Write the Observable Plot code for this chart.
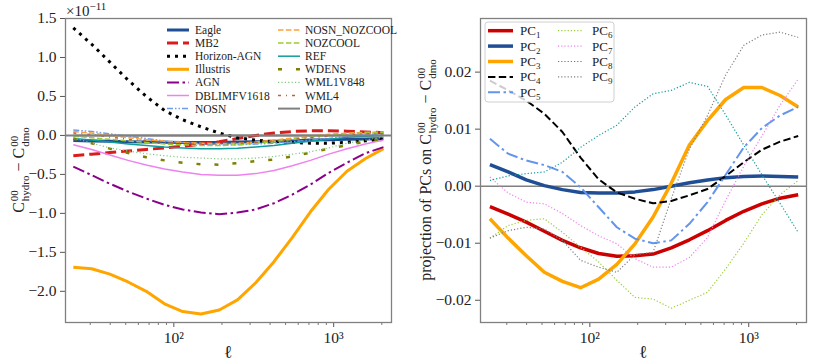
<!DOCTYPE html>
<html><head><meta charset="utf-8">
<script src="https://cdn.jsdelivr.net/npm/d3@7"></script>
<script src="https://cdn.jsdelivr.net/npm/@observablehq/plot@0.6"></script>
<style>
body{margin:0;background:#fff;font-family:'Liberation Serif','DejaVu Serif',serif;color:#222;}
#wrap{position:relative;width:814px;height:362px;overflow:hidden;background:#fff;}
#left,#right{position:absolute;top:0;}
#left{left:0;} #right{left:410px;}
#left svg text,#right svg text{font-family:'Liberation Serif','DejaVu Serif',serif;font-size:15.5px;}
.txt{position:absolute;white-space:nowrap;}
.ylab{position:absolute;white-space:nowrap;transform:translate(-50%,-50%) rotate(-90deg);font-size:16px;}
.st{display:inline-flex;flex-direction:column;vertical-align:middle;font-size:11px;line-height:11px;margin-left:1px;}
#ov{position:absolute;left:0;top:0;pointer-events:none;}
</style></head>
<body>
<div id="wrap">
  <div id="left"></div>
  <div id="right"></div>
  <div class="txt" style="left:66px;top:0px;font-size:15px;">×10<sup style="font-size:11px;">−11</sup></div>
  <div class="ylab" style="left:20px;top:170px;">C<span class="st"><span>00</span><span>hydro</span></span> − C<span class="st"><span>00</span><span>dmo</span></span></div>
  <div class="ylab" style="left:427px;top:170px;">projection of PCs on C<span class="st"><span>00</span><span>hydro</span></span> − C<span class="st"><span>00</span><span>dmo</span></span></div>
  <div class="txt" style="left:228px;top:352px;transform:translate(-50%,-50%);font-size:18px;">ℓ</div>
  <div class="txt" style="left:643px;top:352px;transform:translate(-50%,-50%);font-size:18px;">ℓ</div>
  <svg id="ov" width="814" height="362"></svg>
</div>
<script>
// multipole bins
const ells = [23.5, 30.6, 39.8, 51.7, 67.2, 87.4, 113.7, 147.9, 192.3, 250.1, 325.3, 423.1, 550.3, 715.7, 930.9, 1210.7, 1574.6, 2048];

// Left panel: C_hydro - C_dmo (units of 1e-11)
const eagle       = [-0.065, -0.07, -0.075, -0.08, -0.085, -0.088, -0.09, -0.09, -0.09, -0.085, -0.08, -0.075, -0.07, -0.06, -0.055, -0.05, -0.045, -0.04];
const mb2         = [-0.26, -0.24, -0.22, -0.20, -0.18, -0.16, -0.14, -0.11, -0.08, -0.04, 0.00, 0.03, 0.05, 0.06, 0.06, 0.055, 0.045, 0.035];
const horizonAGN  = [1.38, 1.17, 0.94, 0.71, 0.50, 0.32, 0.20, 0.11, 0.03, -0.03, -0.06, -0.08, -0.09, -0.10, -0.10, -0.09, -0.07, -0.05];
const illustris   = [-1.69, -1.71, -1.78, -1.88, -2.00, -2.16, -2.26, -2.29, -2.24, -2.11, -1.89, -1.62, -1.31, -0.98, -0.69, -0.46, -0.30, -0.17];
const agn         = [-0.40, -0.51, -0.62, -0.72, -0.81, -0.89, -0.95, -0.99, -1.01, -0.99, -0.95, -0.87, -0.76, -0.63, -0.48, -0.35, -0.23, -0.15];
const dblimfv1618 = [-0.12, -0.18, -0.25, -0.32, -0.38, -0.43, -0.47, -0.50, -0.51, -0.51, -0.49, -0.45, -0.39, -0.32, -0.24, -0.17, -0.11, -0.06];
const nosn        = [0.07, 0.05, 0.02, -0.01, -0.04, -0.07, -0.09, -0.11, -0.12, -0.12, -0.11, -0.10, -0.08, -0.06, -0.04, -0.01, 0.01, 0.02];
const nosnNozcool = [0.05, 0.03, 0.0, -0.03, -0.055, -0.075, -0.09, -0.10, -0.105, -0.10, -0.085, -0.06, -0.035, -0.01, 0.015, 0.03, 0.04, 0.045];
const nozcool     = [-0.01, -0.03, -0.05, -0.07, -0.09, -0.11, -0.12, -0.13, -0.13, -0.12, -0.10, -0.08, -0.05, -0.02, 0.0, 0.02, 0.03, 0.035];
const ref         = [-0.04, -0.06, -0.085, -0.11, -0.13, -0.15, -0.16, -0.17, -0.17, -0.165, -0.15, -0.13, -0.10, -0.075, -0.05, -0.025, -0.01, 0.0];
const wdens       = [-0.04, -0.10, -0.17, -0.225, -0.28, -0.32, -0.35, -0.37, -0.375, -0.355, -0.33, -0.31, -0.27, -0.22, -0.17, -0.125, -0.08, -0.04];
const wml1v848    = [-0.03, -0.10, -0.16, -0.20, -0.235, -0.26, -0.28, -0.29, -0.30, -0.30, -0.29, -0.27, -0.24, -0.21, -0.16, -0.10, -0.06, -0.02];
const wml4        = [0.03, 0.01, -0.02, -0.05, -0.07, -0.09, -0.10, -0.11, -0.11, -0.10, -0.09, -0.07, -0.05, -0.03, -0.01, 0.01, 0.02, 0.02];
const dmo         = [0, 0, 0, 0, 0, 0, 0, 0, 0, 0, 0, 0, 0, 0, 0, 0, 0, 0];

// Right panel: projections of PCs
const pc1 = [-0.0036, -0.0049, -0.0063, -0.0079, -0.0095, -0.0108, -0.0118, -0.0123, -0.0122, -0.0119, -0.0108, -0.0094, -0.0078, -0.0060, -0.0044, -0.0031, -0.0021, -0.0015];
const pc2 = [0.0038, 0.0025, 0.0011, 0.0001, -0.0006, -0.0011, -0.0012, -0.0012, -0.0010, -0.0006, 0.0000, 0.0006, 0.0011, 0.0015, 0.0017, 0.0018, 0.0017, 0.0016];
const pc3 = [-0.0057, -0.0091, -0.0122, -0.0151, -0.0167, -0.0178, -0.0163, -0.0137, -0.0101, -0.0054, 0.0005, 0.0072, 0.0115, 0.0152, 0.0173, 0.0173, 0.0159, 0.0139];
const pc4 = [0.0185, 0.0168, 0.0150, 0.0127, 0.0095, 0.0050, 0.0012, -0.0011, -0.0022, -0.0030, -0.0026, -0.0016, -0.0005, 0.0018, 0.0042, 0.0064, 0.0078, 0.0088];
const pc5 = [0.0083, 0.0057, 0.0045, 0.0037, 0.0025, -0.0002, -0.0037, -0.0072, -0.0092, -0.0100, -0.0095, -0.0066, -0.0028, 0.0020, 0.0068, 0.0102, 0.0124, 0.0139];
const pc6 = [-0.0091, -0.0069, -0.0060, -0.0057, -0.0081, -0.0107, -0.0133, -0.0165, -0.0195, -0.0198, -0.0214, -0.0200, -0.0186, -0.0145, -0.0100, -0.0050, -0.0015, 0.0010];
const pc7 = [0.0016, -0.0012, -0.0028, -0.0031, -0.0048, -0.0069, -0.0087, -0.0101, -0.0127, -0.0142, -0.0142, -0.0125, -0.0090, -0.0025, 0.0035, 0.0088, 0.0142, 0.0188];
const pc8 = [0.0010, 0.0018, 0.0022, 0.0025, 0.0042, 0.0068, 0.0089, 0.0107, 0.0139, 0.0162, 0.0168, 0.0182, 0.0175, 0.0125, 0.0072, 0.0020, -0.0030, -0.0081];
const pc9 = [-0.0091, -0.0078, -0.0072, -0.0075, -0.0095, -0.0130, -0.0142, -0.0151, -0.0120, -0.0116, -0.0022, 0.0065, 0.0124, 0.0195, 0.0247, 0.0265, 0.0270, 0.0261];

// ticks
const xMajor = [100, 1000];
const xMinor = [30, 40, 50, 60, 70, 80, 90, 200, 300, 400, 500, 600, 700, 800, 900, 2000];
const xMajorLabels = ["10²", "10³"];
const leftYTicks = [-2, -1.5, -1, -0.5, 0, 0.5, 1, 1.5];
const rightYTicks = [-0.02, -0.01, 0, 0.01, 0.02];

// styles
const leftSeries = [
  {name: "Eagle", values: eagle, color: "#1f4e94", w: 3, dash: null},
  {name: "MB2", values: mb2, color: "#d91c1c", w: 3, dash: "11,5"},
  {name: "Horizon-AGN", values: horizonAGN, color: "#000", w: 3, dash: "3,5"},
  {name: "Illustris", values: illustris, color: "#ffa500", w: 3, dash: null},
  {name: "AGN", values: agn, color: "#8b008b", w: 2, dash: "12,3.5,2.5,3.5"},
  {name: "DBLIMFV1618", values: dblimfv1618, color: "#ee82ee", w: 1.5, dash: null},
  {name: "NOSN", values: nosn, color: "#6f9be8", w: 1.5, dash: "6,2,1.5,2,1.5,2"},
  {name: "NOSN_NOZCOOL", values: nosnNozcool, color: "#ff9f3a", w: 1.5, dash: "5.5,2.4"},
  {name: "NOZCOOL", values: nozcool, color: "#9acd32", w: 1.5, dash: "5.5,2.4"},
  {name: "REF", values: ref, color: "#119c9c", w: 1.5, dash: null},
  {name: "WDENS", values: wdens, color: "#808000", w: 2.5, dash: "4,14"},
  {name: "WML1V848", values: wml1v848, color: "#80c880", w: 1.2, dash: "1.2,2.2"},
  {name: "WML4", values: wml4, color: "#c0603a", w: 1.5, dash: "3,5,1,5"},
  {name: "DMO", values: dmo, color: "#808080", w: 2, dash: null}
];
const rightSeries = [
  {name: "1", values: pc1, color: "#cc0000", w: 3.5, dash: null},
  {name: "2", values: pc2, color: "#1f4e94", w: 3.5, dash: null},
  {name: "3", values: pc3, color: "#ffa500", w: 3.5, dash: null},
  {name: "4", values: pc4, color: "#000", w: 2, dash: "7.4,3.4"},
  {name: "5", values: pc5, color: "#6495ed", w: 2, dash: "12,3.5,2.5,3.5"},
  {name: "6", values: pc6, color: "#9acd32", w: 1.2, dash: "1.2,2"},
  {name: "7", values: pc7, color: "#ee82ee", w: 1.2, dash: "1.2,2"},
  {name: "8", values: pc8, color: "#119c9c", w: 1.2, dash: "1.2,2"},
  {name: "9", values: pc9, color: "#808080", w: 1.2, dash: "1.2,2"}
];

const toRows = arr => ells.map((l, i) => ({ell: l, v: arr[i]}));
const lineMarks = list => list.map(s => Plot.line(toRows(s.values), {
  x: "ell", y: "v", stroke: s.color, strokeWidth: s.w,
  strokeDasharray: s.dash || undefined, strokeLinejoin: "round", strokeLinecap: "butt"
}));
const fmtMinus = (d, n) => (d < 0 ? "−" : "") + Math.abs(d).toFixed(n);
const font = "'Liberation Serif','DejaVu Serif',serif";
const svgStyle = "font-family:'Liberation Serif','DejaVu Serif',serif;font-size:15.5px;background:white;color:#222;";

function axes(yTicks, digits) {
  return [
    Plot.axisX({ticks: xMinor, tickSize: 3, tickFormat: () => "", label: null, stroke: "#555", strokeWidth: 0.8}),
    Plot.axisX({ticks: xMajor, tickSize: 5, tickPadding: 4, stroke: "#555",
      tickFormat: d => xMajorLabels[xMajor.indexOf(d)], label: null, fill: "#222"}),
    Plot.axisY({ticks: yTicks, tickSize: 5, tickPadding: 4, stroke: "#555",
      tickFormat: d => fmtMinus(d, digits), label: null, fill: "#222"})
  ];
}

const left = Plot.plot({
  width: 410, height: 362,
  marginLeft: 65, marginRight: 19, marginTop: 18, marginBottom: 40,
  style: svgStyle,
  x: {type: "log", domain: [21, 2300]},
  y: {domain: [-2.4, 1.5]},
  marks: [
    ...axes(leftYTicks, 1),
    Plot.ruleY([0], {stroke: "#808080", strokeWidth: 2}),
    ...lineMarks(leftSeries),
    Plot.frame({stroke: "#808080", strokeWidth: 1.3})
  ]
});
document.getElementById("left").appendChild(left);

const right = Plot.plot({
  width: 404, height: 362,
  marginLeft: 70, marginRight: 8, marginTop: 18, marginBottom: 40,
  style: svgStyle,
  x: {type: "log", domain: [20.5, 2310]},
  y: {domain: [-0.0239, 0.0294]},
  marks: [
    ...axes(rightYTicks, 2),
    Plot.ruleY([0], {stroke: "#808080", strokeWidth: 1.5}),
    ...lineMarks(rightSeries),
    Plot.frame({stroke: "#808080", strokeWidth: 1.3})
  ]
});
document.getElementById("right").appendChild(right);

// Legends (overlay)
const ov = d3.select("#ov");
leftSeries.forEach((s, k) => {
  const col = k < 7 ? 0 : 1, row = k % 7;
  const x0 = col ? 278 : 167, tx = col ? 305 : 195, y = 30 + row * 13.1;
  ov.append("line").attr("x1", x0).attr("x2", x0 + 22).attr("y1", y).attr("y2", y)
    .attr("stroke", s.color).attr("stroke-width", s.w).attr("stroke-dasharray", s.dash);
  ov.append("text").attr("x", tx).attr("y", y).attr("dy", "0.35em")
    .attr("font-family", font).attr("font-size", 11.5).attr("fill", "#222").text(s.name);
});
ov.append("rect").attr("x", 485).attr("y", 22).attr("width", 129).attr("height", 80).attr("rx", 3)
  .attr("fill", "white").attr("fill-opacity", 0.8).attr("stroke", "#d0d0d0").attr("stroke-width", 1);
rightSeries.forEach((s, k) => {
  const col = k < 5 ? 0 : 1, row = k < 5 ? k : k - 5;
  const x0 = col ? 558 : 488, tx = col ? 592 : 520, y = 30.7 + row * 15.4;
  ov.append("line").attr("x1", x0).attr("x2", x0 + 25).attr("y1", y).attr("y2", y)
    .attr("stroke", s.color).attr("stroke-width", s.w).attr("stroke-dasharray", s.dash);
  const t = ov.append("text").attr("x", tx).attr("y", y).attr("dy", "0.35em")
    .attr("font-family", font).attr("font-size", 13).attr("fill", "#222");
  t.append("tspan").text("PC");
  t.append("tspan").attr("font-size", 9).attr("dy", 3).text(s.name);
});
</script>
</body></html>
